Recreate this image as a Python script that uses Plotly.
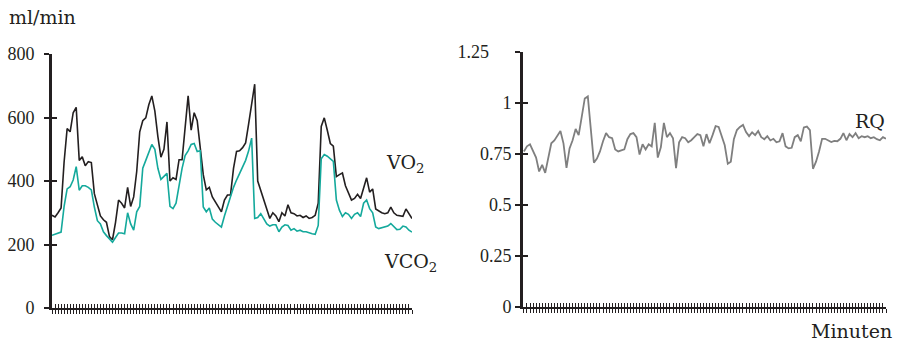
import plotly.graph_objects as go

minutes = list(range(120))

vo2 = [292, 287, 300, 315, 460, 565, 555, 615, 632, 465,
       476, 448, 461, 458, 360, 320, 290, 278, 270, 225,
       215, 270, 340, 330, 315, 380, 320, 350, 430, 555,
       590, 599, 640, 668, 620, 540, 475, 500, 586, 400,
       410, 405, 467, 467, 580, 668, 560, 615, 590, 495,
       420, 372, 380, 350, 335, 320, 303, 340, 356, 356,
       440, 493, 495, 505, 520, 580, 650, 705, 400, 370,
       340, 310, 282, 300, 290, 272, 300, 290, 325, 300,
       297, 290, 292, 285, 290, 282, 285, 292, 330, 572,
       599, 560, 518, 510, 414, 420, 425, 385, 365, 340,
       345, 358, 345, 380, 410, 365, 375, 312, 305, 300,
       297, 300, 318, 300, 292, 290, 289, 312, 295, 282]

vco2 = [229, 232, 236, 239, 320, 375, 382, 403, 445, 371,
        385, 385, 380, 372, 318, 275, 265, 240, 228, 216,
        207, 222, 236, 236, 234, 300, 265, 245, 303, 320,
        440, 465, 490, 515, 500, 440, 405, 415, 424, 320,
        313, 330, 390, 440, 480, 495, 515, 518, 493, 495,
        318, 303, 315, 280, 270, 262, 255, 290, 320, 355,
        380, 403, 425, 445, 465, 495, 535, 282, 285, 297,
        280, 265, 258, 262, 262, 240, 255, 262, 260, 245,
        250, 242, 245, 240, 240, 236, 234, 232, 260, 470,
        483, 478, 470, 462, 340, 308, 288, 300, 295, 282,
        295, 300, 288, 330, 340, 313, 300, 255, 250, 252,
        255, 258, 266, 255, 247, 248, 258, 255, 245, 239]

rq = [0.76, 0.785, 0.795, 0.76, 0.73, 0.662, 0.694, 0.655, 0.72, 0.80,
      0.814, 0.84, 0.86, 0.80, 0.68, 0.775, 0.815, 0.87, 0.84, 0.93,
      1.02, 1.03, 0.85, 0.705, 0.725, 0.76, 0.81, 0.85, 0.83, 0.825,
      0.77, 0.76, 0.765, 0.77, 0.82, 0.845, 0.85, 0.83, 0.745, 0.795,
      0.77, 0.795, 0.785, 0.90, 0.73, 0.78, 0.90, 0.83, 0.85, 0.825,
      0.678, 0.805, 0.83, 0.825, 0.805, 0.815, 0.83, 0.845, 0.84, 0.785,
      0.845, 0.80, 0.84, 0.884, 0.88, 0.83, 0.79, 0.70, 0.71, 0.82,
      0.865, 0.88, 0.89, 0.855, 0.835, 0.854, 0.84, 0.86, 0.83, 0.82,
      0.835, 0.814, 0.822, 0.805, 0.81, 0.85, 0.785, 0.775, 0.778, 0.83,
      0.84, 0.81, 0.878, 0.882, 0.865, 0.675, 0.71, 0.76, 0.822, 0.822,
      0.815, 0.806, 0.812, 0.81, 0.822, 0.85, 0.815, 0.845, 0.83, 0.85,
      0.825, 0.835, 0.83, 0.835, 0.825, 0.83, 0.82, 0.815, 0.83, 0.822]

left_ticks = [0, 200, 400, 600, 800]
right_ticks = [0, 0.25, 0.5, 0.75, 1, 1.25]
right_ticktext = ["0", "0.25", "0.5", "0.75", "1", "1.25\u00a0\u00a0\u00a0\u00a0\u00a0"]

W, H = 899, 347
TFONT = "Liberation Serif"
LFONT = "DejaVu Serif"
INK = "#231f20"

def px(x):
    return x / W

def py(y):
    return 1 - y / H

fig = go.Figure()
fig.add_trace(go.Scatter(x=minutes, y=vo2, mode="lines", line=dict(color=INK, width=1.6),
                         xaxis="x", yaxis="y", showlegend=False))
fig.add_trace(go.Scatter(x=minutes, y=vco2, mode="lines", line=dict(color="#14a99c", width=1.6),
                         xaxis="x", yaxis="y", showlegend=False))
fig.add_trace(go.Scatter(x=minutes, y=rq, mode="lines", line=dict(color="#7f7f7f", width=1.8),
                         xaxis="x2", yaxis="y2", showlegend=False))
# carrier traces so the overlaid (inside-tick) axes are drawn
fig.add_trace(go.Scatter(x=minutes[:1], y=vo2[:1], mode="markers", opacity=0,
                         xaxis="x3", yaxis="y3", showlegend=False, hoverinfo="skip"))
fig.add_trace(go.Scatter(x=minutes[:1], y=rq[:1], mode="markers", opacity=0,
                         xaxis="x4", yaxis="y4", showlegend=False, hoverinfo="skip"))

ld = [px(52), px(412)]
rd = [px(523), px(886)]
lyd = [py(308), py(54)]
ryd = [py(306.5), py(51.5)]

xcommon = dict(showgrid=False, zeroline=False, showline=True, linecolor=INK, linewidth=2,
               tickmode="linear", tick0=0, dtick=1, ticklen=4, tickwidth=1, tickcolor=INK,
               showticklabels=False, automargin=False)
ycommon = dict(showgrid=False, zeroline=False, showline=True, linecolor=INK, linewidth=3,
               ticklen=5, tickwidth=1.5, tickcolor=INK, automargin=False)

fig.update_layout(
    width=W, height=H, margin=dict(l=0, r=0, t=0, b=0, pad=0, autoexpand=False),
    paper_bgcolor="white", plot_bgcolor="rgba(0,0,0,0)",
    font=dict(family=TFONT, size=18, color=INK),
    xaxis=dict(domain=ld, range=[0, 119], anchor="y", ticks="outside", **xcommon),
    yaxis=dict(domain=lyd, range=[0, 800], anchor="x", ticks="outside",
               tickvals=left_ticks, ticklabelstandoff=6, **ycommon),
    xaxis2=dict(domain=rd, range=[-0.3, 119], anchor="y2", ticks="outside", **xcommon),
    yaxis2=dict(domain=ryd, range=[0, 1.25], anchor="x2", ticks="outside",
                tickvals=right_ticks, ticktext=right_ticktext, ticklabelstandoff=0, **ycommon),
    xaxis3=dict(domain=ld, range=[0, 119], anchor="y3", overlaying="x", ticks="inside", **xcommon),
    yaxis3=dict(domain=lyd, range=[0, 800], anchor="x3", overlaying="y", ticks="inside",
                tickvals=left_ticks, showticklabels=False, **ycommon),
    xaxis4=dict(domain=rd, range=[-0.3, 119], anchor="y4", overlaying="x2", ticks="inside", **xcommon),
    yaxis4=dict(domain=ryd, range=[0, 1.25], anchor="x4", overlaying="y2", ticks="inside",
                tickvals=right_ticks, showticklabels=False, **ycommon),
)

ann = [
    dict(text="ml/min", x=px(7), y=py(17), xanchor="left", yanchor="middle"),
    dict(text="VO<sub>2</sub>", x=px(384), y=py(163), xanchor="left", yanchor="middle"),
    dict(text="VCO<sub>2</sub>", x=px(382), y=py(262), xanchor="left", yanchor="middle"),
    dict(text="RQ", x=px(887), y=py(121), xanchor="right", yanchor="middle"),
    dict(text="Minuten", x=px(894), y=py(331), xanchor="right", yanchor="middle"),
]
for a in ann:
    fig.add_annotation(xref="paper", yref="paper", showarrow=False,
                       font=dict(family=LFONT, size=19, color=INK), **a)

fig.write_html("out.html")
